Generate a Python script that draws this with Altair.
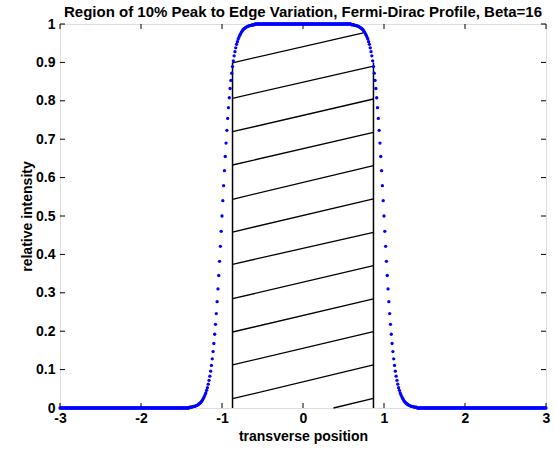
import altair as alt
import pandas as pd

TITLE = "Region of 10% Peak to Edge Variation, Fermi-Dirac Profile, Beta=16"

edge_y = [
    0.998, 0.998, 0.998, 0.997, 0.997, 0.996, 0.996, 0.995, 0.994, 0.993,
    0.992, 0.990, 0.989, 0.987, 0.985, 0.982, 0.979, 0.975, 0.971, 0.966,
    0.961, 0.954, 0.947, 0.938, 0.928, 0.917, 0.904, 0.889, 0.872, 0.853,
    0.832, 0.808, 0.782, 0.754, 0.723, 0.690, 0.655, 0.618, 0.579, 0.540,
    0.500,
    0.460, 0.421, 0.382, 0.345, 0.310, 0.277, 0.246, 0.218, 0.192, 0.168,
    0.147, 0.128, 0.111, 0.096, 0.083, 0.072, 0.062, 0.053, 0.046, 0.039,
    0.034, 0.029, 0.025, 0.021, 0.018, 0.015, 0.013, 0.011, 0.010, 0.008,
    0.007, 0.006, 0.005, 0.004, 0.004, 0.003, 0.003, 0.002, 0.002, 0.002,
]
plateau_y = 1.0   # flat top for |x| < 0.60
tail_y = 0.0      # flat tails for |x| > 1.40

# Hatch segments (x1, y1) -> (x2, y2)
hatch_x1 = [-0.87] * 11 + [0.376]
hatch_y1 = [0.899, 0.8065, 0.7195, 0.6328, 0.5435, 0.4583, 0.3742, 0.2846, 0.1979, 0.1120, 0.0242, 0.0]
hatch_x2 = [0.745] + [0.87] * 11
hatch_y2 = [0.977, 0.8906, 0.8047, 0.718, 0.631, 0.5443, 0.4576, 0.3706, 0.2839, 0.1987, 0.112, 0.0253]

edge_left, edge_right = -0.87, 0.87
edge_top = 0.9

x_ticks = [-3, -2, -1, 0, 1, 2, 3]
y_ticks = [0, 0.1, 0.2, 0.3, 0.4, 0.5, 0.6, 0.7, 0.8, 0.9, 1]

# Build the sampled profile on a 0.01 grid
right_half = [(i / 100, plateau_y) for i in range(0, 60)]
right_half += [((60 + i) / 100, v) for i, v in enumerate(edge_y)]
right_half += [((141 + i) / 100, tail_y) for i in range(0, 160)]
left_half = [(-x, y) for x, y in reversed(right_half) if x > 0]
profile = pd.DataFrame(left_half + right_half, columns=["x", "y"])

hatch = pd.DataFrame({"x": hatch_x1, "y": hatch_y1, "x2": hatch_x2, "y2": hatch_y2})
verts = pd.DataFrame({"x": [edge_left, edge_right], "y": [0, 0], "y2": [edge_top, edge_top]})

W, H = 486, 384
FONT = "Liberation Sans"

xs = alt.Scale(domain=[-3, 3], nice=False, zero=False)
ys = alt.Scale(domain=[0, 1], nice=False, zero=False)

common = dict(grid=False, domain=False, ticks=False, labelOverlap=False, labelFlush=False,
              labelFont=FONT, labelFontSize=14, labelFontWeight="bold", labelColor="black",
              titleFont=FONT, titleFontSize=14, titleFontWeight="bold", titleColor="black")
xaxis = alt.Axis(values=x_ticks, labelExpr="'' + datum.value", title="transverse position",
                 labelPadding=3, titlePadding=4, **common)
yaxis = alt.Axis(values=y_ticks, labelExpr="'' + datum.value", title="relative intensity",
                 labelPadding=5, titlePadding=1, **common)

def X(f):
    return alt.X(f, type="quantitative", scale=xs, axis=xaxis)

def Y(f):
    return alt.Y(f, type="quantitative", scale=ys, axis=yaxis)

base_hatch = alt.Chart(hatch).mark_rule(color="black", strokeWidth=1.3).encode(
    x=X("x"), y=Y("y"), x2="x2:Q", y2="y2:Q",
)

vlines = alt.Chart(verts).mark_rule(color="black", strokeWidth=1.5).encode(
    x=X("x"), y=Y("y"), y2="y2:Q"
)

xt = pd.DataFrame({"v": x_ticks})
yt = pd.DataFrame({"v": y_ticks})
tick_bottom = alt.Chart(xt).mark_rule(color="black").encode(
    x=X("v"), y=alt.value(H), y2=alt.value(H - 5))
tick_top = alt.Chart(xt).mark_rule(color="black").encode(
    x=X("v"), y=alt.value(0), y2=alt.value(5))
tick_left = alt.Chart(yt).mark_rule(color="black").encode(
    y=Y("v"), x=alt.value(0), x2=alt.value(5))
tick_right = alt.Chart(yt).mark_rule(color="black").encode(
    y=Y("v"), x=alt.value(W), x2=alt.value(W - 5))

points = alt.Chart(profile).mark_circle(size=11, color="#0000ff", opacity=1).encode(
    x=X("x"), y=Y("y")
)

chart = alt.layer(
    base_hatch, vlines, tick_bottom, tick_top, tick_left, tick_right, points
).properties(
    width=W, height=H,
    title=alt.TitleParams(TITLE, font=FONT, fontSize=15, fontWeight="bold", anchor="middle",
                          offset=-3, color="black"),
    autosize=alt.AutoSizeParams(type="none"),
    padding={"left": 60, "top": 24, "right": 9, "bottom": 47},
).configure_view(
    stroke="black", strokeWidth=1
).configure(background="white")

chart.save("out.html", embed_options={"renderer": "svg", "actions": False})
